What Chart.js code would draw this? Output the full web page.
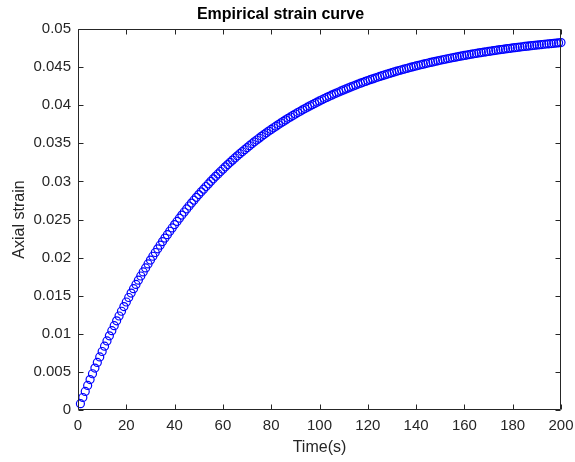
<!DOCTYPE html>
<html>
<head>
<meta charset="utf-8">
<script src="https://cdn.jsdelivr.net/npm/chart.js@4/dist/chart.umd.min.js"></script>
<style>
  html, body { margin: 0; padding: 0; background: #fff; }
  canvas { display: block; }
</style>
</head>
<body>
<canvas id="strainChart" width="575" height="462"></canvas>
<script>
/* DATA */
const timeStart = 1; // first sample at t = 1 s, one sample per second
const axialStrain = [
  0.000826, 0.001639, 0.002439, 0.003225, 0.003998, 0.004758, 0.005506, 0.006241, 0.006965, 0.007676,
  0.008375, 0.009063, 0.009740, 0.010406, 0.011060, 0.011704, 0.012337, 0.012959, 0.013571, 0.014173,
  0.014766, 0.015348, 0.015921, 0.016484, 0.017038, 0.017583, 0.018119, 0.018646, 0.019164, 0.019673,
  0.020175, 0.020668, 0.021152, 0.021629, 0.022098, 0.022559, 0.023013, 0.023459, 0.023898, 0.024329,
  0.024753, 0.025171, 0.025581, 0.025985, 0.026382, 0.026772, 0.027156, 0.027534, 0.027905, 0.028270,
  0.028629, 0.028982, 0.029330, 0.029671, 0.030007, 0.030338, 0.030663, 0.030983, 0.031297, 0.031606,
  0.031910, 0.032209, 0.032503, 0.032792, 0.033077, 0.033356, 0.033632, 0.033902, 0.034168, 0.034430,
  0.034687, 0.034940, 0.035189, 0.035434, 0.035675, 0.035912, 0.036145, 0.036373, 0.036599, 0.036820,
  0.037038, 0.037252, 0.037463, 0.037670, 0.037874, 0.038074, 0.038272, 0.038466, 0.038656, 0.038843,
  0.039028, 0.039209, 0.039387, 0.039563, 0.039735, 0.039905, 0.040072, 0.040236, 0.040398, 0.040556,
  0.040712, 0.040866, 0.041017, 0.041165, 0.041311, 0.041455, 0.041596, 0.041735, 0.041872, 0.042006,
  0.042138, 0.042268, 0.042396, 0.042521, 0.042645, 0.042767, 0.042886, 0.043004, 0.043120, 0.043233,
  0.043345, 0.043455, 0.043563, 0.043670, 0.043774, 0.043877, 0.043978, 0.044078, 0.044176, 0.044272,
  0.044367, 0.044460, 0.044551, 0.044642, 0.044730, 0.044817, 0.044903, 0.044987, 0.045070, 0.045151,
  0.045232, 0.045310, 0.045388, 0.045464, 0.045539, 0.045613, 0.045685, 0.045757, 0.045827, 0.045896,
  0.045964, 0.046030, 0.046096, 0.046160, 0.046224, 0.046286, 0.046348, 0.046408, 0.046467, 0.046526,
  0.046583, 0.046640, 0.046695, 0.046750, 0.046804, 0.046856, 0.046908, 0.046960, 0.047010, 0.047059,
  0.047108, 0.047156, 0.047203, 0.047249, 0.047294, 0.047339, 0.047383, 0.047426, 0.047469, 0.047511,
  0.047552, 0.047592, 0.047632, 0.047671, 0.047710, 0.047748, 0.047785, 0.047821, 0.047857, 0.047893,
  0.047928, 0.047962, 0.047996, 0.048029, 0.048061, 0.048093, 0.048125, 0.048156, 0.048186, 0.048216
];
const xTickLabels = ["0", "20", "40", "60", "80", "100", "120", "140", "160", "180", "200"];
const yTickLabels = ["0", "0.005", "0.01", "0.015", "0.02", "0.025", "0.03", "0.035", "0.04", "0.045", "0.05"];

const points = axialStrain.map((v, i) => ({ x: timeStart + i, y: v }));

/* MATLAB-like box with inward ticks */
const boxTicks = {
    id: "boxTicks",
    afterDraw(chart) {
        const { ctx, chartArea: a, scales: { x, y } } = chart;
        const L = Math.round(a.left) + 0.5, R = Math.round(a.right) - 0.5;
        const T = Math.round(a.top) + 0.5, B = Math.round(a.bottom) - 0.5;
        const len = 5;
        ctx.save();
        ctx.strokeStyle = "#262626";
        ctx.lineWidth = 1;
        ctx.beginPath();
        ctx.rect(L, T, R - L, B - T);
        x.ticks.forEach(t => {
            const px = Math.round(x.getPixelForValue(t.value)) + 0.5;
            ctx.moveTo(px, B); ctx.lineTo(px, B - len);
            ctx.moveTo(px, T); ctx.lineTo(px, T + len);
        });
        y.ticks.forEach(t => {
            const py = Math.round(y.getPixelForValue(t.value)) + 0.5;
            ctx.moveTo(L, py); ctx.lineTo(L + len, py);
            ctx.moveTo(R, py); ctx.lineTo(R - len, py);
        });
        ctx.stroke();
        ctx.restore();
    }
};

Chart.defaults.font.family = "'Liberation Sans', Arial, Helvetica, sans-serif";
Chart.defaults.color = "#262626";

new Chart(document.getElementById("strainChart"), {
    type: "scatter",
    data: {
        datasets: [{
            data: points,
            showLine: false,
            pointStyle: "circle",
            pointRadius: 4,
            pointBorderWidth: 1.2,
            borderColor: "#0000ff",
            backgroundColor: "rgba(0,0,0,0)",
            clip: false
        }]
    },
    options: {
        responsive: false,
        animation: false,
        devicePixelRatio: 1,
        layout: { padding: { left: 0, right: 14, top: 0, bottom: 0 } },
        plugins: {
            legend: { display: false },
            tooltip: { enabled: false },
            title: {
                display: true,
                text: "Empirical strain curve",
                color: "#000",
                font: { size: 16, weight: "bold" },
                padding: { top: 5, bottom: 4.8 }
            }
        },
        scales: {
            x: {
                type: "linear",
                min: 0,
                max: 200,
                grid: { display: false, drawTicks: false },
                border: { display: false },
                ticks: {
                    stepSize: 20,
                    padding: 7,
                    maxRotation: 0,
                    font: { size: 15 },
                    callback: (v, i) => xTickLabels[i]
                },
                title: {
                    display: true,
                    text: "Time(s)",
                    font: { size: 16 },
                    padding: { top: 0, bottom: 5 }
                },
                afterFit(s) { s.height = 52; s.paddingLeft = 0; s.paddingRight = 0; }
            },
            y: {
                type: "linear",
                min: 0,
                max: 0.05,
                grid: { display: false, drawTicks: false },
                border: { display: false },
                ticks: {
                    stepSize: 0.005,
                    padding: 7,
                    font: { size: 15 },
                    callback: (v, i) => yTickLabels[i]
                },
                title: {
                    display: true,
                    text: "Axial strain",
                    font: { size: 16 },
                    padding: { top: 10, bottom: 0 }
                },
                afterFit(s) { s.width = 78; s.paddingTop = 0; s.paddingBottom = 0; }
            }
        }
    },
    plugins: [boxTicks]
});
</script>
</body>
</html>
